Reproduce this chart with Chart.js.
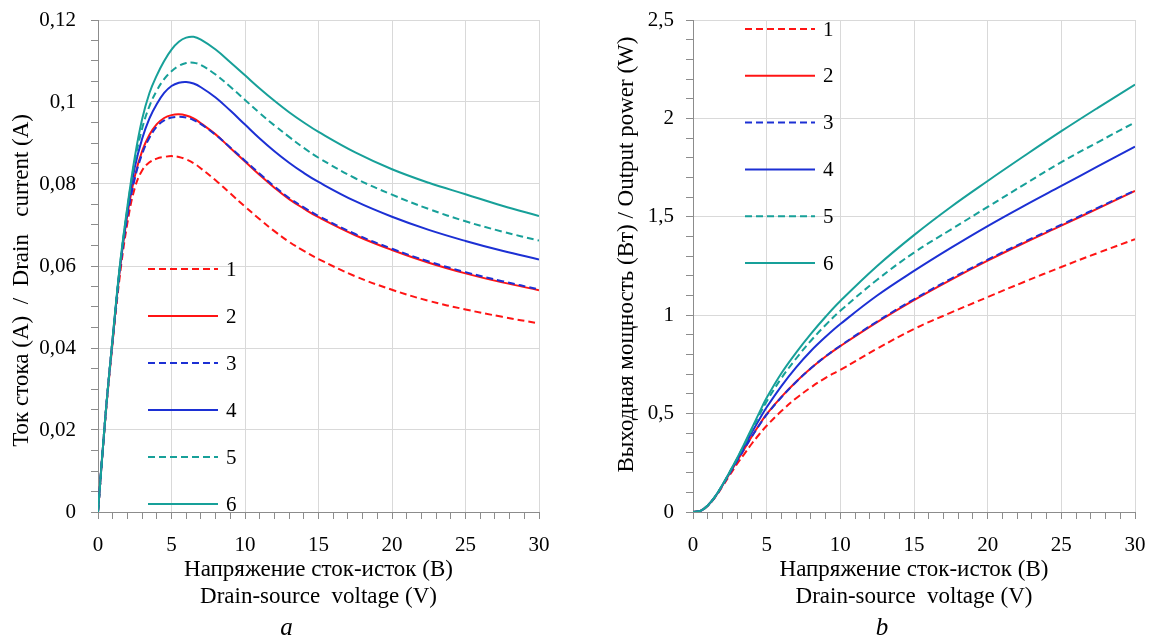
<!DOCTYPE html>
<html>
<head>
<meta charset="utf-8">
<script src="https://cdn.jsdelivr.net/npm/chart.js@4.4.0/dist/chart.umd.min.js"></script>
<style>
  body { margin: 0; background: #fff; }
  #wrapA { position: absolute; left: 0; top: 0; width: 575px; height: 637px; }
  #wrapB { position: absolute; left: 605px; top: 0; width: 546px; height: 637px; }
</style>
</head>
<body>
<div id="wrapA"><canvas id="currentChart"></canvas></div>
<div id="wrapB"><canvas id="powerChart"></canvas></div>
<script>
// series names (legend)
var seriesLabels = ['1', '2', '3', '4', '5', '6'];

// chart a: drain current vs drain-source voltage
var currentVoltage = [0, 0.5, 1, 1.5, 2, 2.5, 3, 3.5, 4, 4.5, 5, 5.5, 6, 6.5, 7, 8, 9, 10, 11, 12, 13, 14, 15, 17.5, 20, 22.5, 25, 27.5, 30];
var current1 = [0, 0.0228, 0.0415, 0.0580, 0.0705, 0.0790, 0.0833, 0.0853, 0.0862, 0.0866, 0.0868, 0.0866, 0.0860, 0.0851, 0.0838, 0.0809, 0.0777, 0.0745, 0.0714, 0.0685, 0.0659, 0.0637, 0.0617, 0.0575, 0.0542, 0.0515, 0.0494, 0.0476, 0.0460];
var current2 = [0, 0.0231, 0.0422, 0.0595, 0.0725, 0.0818, 0.0880, 0.0920, 0.0946, 0.0961, 0.0968, 0.0970, 0.0967, 0.0960, 0.0948, 0.0921, 0.0888, 0.0855, 0.0822, 0.0791, 0.0763, 0.0740, 0.0719, 0.0675, 0.0639, 0.0608, 0.0582, 0.0560, 0.0541];
var current3 = [0, 0.0231, 0.0422, 0.0594, 0.0722, 0.0813, 0.0873, 0.0913, 0.0940, 0.0955, 0.0962, 0.0964, 0.0962, 0.0956, 0.0946, 0.0920, 0.0889, 0.0857, 0.0825, 0.0794, 0.0766, 0.0743, 0.0722, 0.0678, 0.0642, 0.0611, 0.0585, 0.0563, 0.0543];
var current4 = [0, 0.0232, 0.0424, 0.0600, 0.0735, 0.0840, 0.0910, 0.0960, 0.0995, 0.1022, 0.1039, 0.1047, 0.1049, 0.1045, 0.1036, 0.1011, 0.0979, 0.0945, 0.0911, 0.0880, 0.0852, 0.0827, 0.0805, 0.0758, 0.0720, 0.0688, 0.0661, 0.0637, 0.0616];
var current5 = [0, 0.0232, 0.0425, 0.0603, 0.0740, 0.0855, 0.0935, 0.0990, 0.1028, 0.1056, 0.1075, 0.1088, 0.1095, 0.1096, 0.1090, 0.1067, 0.1037, 0.1005, 0.0973, 0.0943, 0.0915, 0.0888, 0.0864, 0.0814, 0.0774, 0.0739, 0.0709, 0.0684, 0.0662];
var current6 = [0, 0.0232, 0.0425, 0.0605, 0.0745, 0.0865, 0.0958, 0.1022, 0.1065, 0.1100, 0.1128, 0.1147, 0.1157, 0.1159, 0.1152, 0.1128, 0.1097, 0.1065, 0.1033, 0.1003, 0.0975, 0.0950, 0.0927, 0.0877, 0.0836, 0.0803, 0.0775, 0.0747, 0.0722];

// chart b: output power vs drain-source voltage
var powerVoltage = [0, 0.5, 1, 1.5, 2, 2.5, 3, 3.5, 4, 4.5, 5, 6, 7, 8, 9, 10, 12.5, 15, 17.5, 20, 22.5, 25, 27.5, 30];
var power1 = [0, 0.005, 0.032, 0.075, 0.13, 0.188, 0.245, 0.297, 0.348, 0.395, 0.438, 0.513, 0.578, 0.633, 0.682, 0.722, 0.83, 0.93, 1.013, 1.092, 1.17, 1.245, 1.317, 1.386];
var power2 = [0, 0.005, 0.033, 0.077, 0.135, 0.197, 0.26, 0.323, 0.385, 0.443, 0.497, 0.585, 0.662, 0.73, 0.79, 0.843, 0.965, 1.077, 1.18, 1.277, 1.368, 1.455, 1.543, 1.631];
var power3 = [0, 0.005, 0.033, 0.077, 0.135, 0.197, 0.26, 0.323, 0.384, 0.441, 0.495, 0.583, 0.661, 0.73, 0.791, 0.845, 0.968, 1.081, 1.185, 1.282, 1.373, 1.46, 1.547, 1.634];
var power4 = [0, 0.005, 0.033, 0.078, 0.137, 0.202, 0.268, 0.336, 0.405, 0.47, 0.532, 0.64, 0.735, 0.818, 0.89, 0.955, 1.1, 1.225, 1.342, 1.453, 1.557, 1.657, 1.757, 1.856];
var power5 = [0, 0.005, 0.033, 0.078, 0.138, 0.204, 0.272, 0.345, 0.418, 0.492, 0.562, 0.68, 0.78, 0.87, 0.95, 1.022, 1.18, 1.318, 1.435, 1.55, 1.665, 1.778, 1.88, 1.98];
var power6 = [0, 0.005, 0.033, 0.078, 0.138, 0.205, 0.275, 0.35, 0.427, 0.505, 0.58, 0.705, 0.81, 0.905, 0.992, 1.072, 1.25, 1.407, 1.55, 1.682, 1.81, 1.935, 2.055, 2.172];

var xTitle = ['Напряжение сток-исток (В)', 'Drain-source  voltage (V)'];

var lineColors = ['#ff1414', '#ff1414', '#1c30d4', '#1c30d4', '#17a099', '#17a099'];
var gridColor = '#d9d9d9';
var axisColor = '#8c8c8c';
var serif = "'Liberation Serif', 'Times New Roman', serif";

Chart.defaults.font.family = serif;
Chart.defaults.font.size = 21;
Chart.defaults.color = '#000';

function isMajor(v, step) {
  return Math.abs(v / step - Math.round(v / step)) < 1e-6;
}

function commaLabel(v, step) {
  if (!isMajor(v, step)) return '';
  return String(parseFloat(v.toFixed(4))).replace('.', ',');
}

function makeDatasets(xs, series) {
  return series.map(function(ys, i) {
    return {
      label: seriesLabels[i],
      data: xs.map(function(x, j) { return {x: x, y: ys[j]}; }),
      borderColor: lineColors[i],
      borderWidth: 2,
      borderDash: i % 2 === 0 ? [7, 4] : [],
      pointRadius: 0,
      fill: false,
      tension: 0.4,
      order: series.length - i
    };
  });
}

// legend drawn inside the plot area
var insideLegend = {
  id: 'insideLegend',
  afterDatasetsDraw: function(chart, args, opts) {
    var ctx = chart.ctx, a = chart.chartArea;
    ctx.save();
    chart.data.datasets.forEach(function(ds, i) {
      var x0 = a.left + opts.left;
      var y = a.top + opts.top + i * opts.gap;
      ctx.strokeStyle = ds.borderColor;
      ctx.lineWidth = ds.borderWidth;
      ctx.setLineDash(ds.borderDash);
      ctx.beginPath();
      ctx.moveTo(x0, y);
      ctx.lineTo(x0 + opts.length, y);
      ctx.stroke();
      ctx.setLineDash([]);
      ctx.fillStyle = '#000';
      ctx.font = '21px ' + serif;
      ctx.textAlign = 'left';
      ctx.textBaseline = 'middle';
      ctx.fillText(ds.label, x0 + opts.length + 8, y + 1);
    });
    ctx.restore();
  }
};

// italic panel letter under the axis title
var panelLetter = {
  id: 'panelLetter',
  afterDraw: function(chart, args, opts) {
    var ctx = chart.ctx, a = chart.chartArea;
    ctx.save();
    ctx.font = 'italic 25px ' + serif;
    ctx.fillStyle = '#000';
    ctx.textAlign = 'center';
    ctx.textBaseline = 'alphabetic';
    ctx.fillText(opts.text, (a.left + a.right) / 2 + opts.dx, opts.y);
    ctx.restore();
  }
};

function buildChart(id, xs, series, o) {
  return new Chart(document.getElementById(id), {
    type: 'line',
    data: { datasets: makeDatasets(xs, series) },
    plugins: [insideLegend, panelLetter],
    options: {
      responsive: true,
      maintainAspectRatio: false,
      animation: false,
      layout: { padding: { top: 20, right: o.padRight, left: 0, bottom: 0 } },
      plugins: {
        legend: { display: false },
        tooltip: { enabled: false },
        insideLegend: o.legend,
        panelLetter: { text: o.letter, dx: -32, y: 635 }
      },
      scales: {
        x: {
          type: 'linear',
          bounds: 'data',
          min: 0,
          max: 30,
          afterFit: function(s) {
            s.height = 125;
            s.paddingLeft = 0;
            s.paddingRight = 0;
          },
          ticks: {
            stepSize: 1,
            autoSkip: false,
            maxRotation: 0,
            padding: 14,
            callback: function(v) { return commaLabel(v, 5); }
          },
          grid: {
            color: function(c) { return c.tick && isMajor(c.tick.value, 5) ? gridColor : 'rgba(0,0,0,0)'; },
            tickColor: axisColor,
            tickLength: 7,
            lineWidth: 1
          },
          border: { color: axisColor },
          title: {
            display: true,
            text: xTitle,
            padding: { top: 0, bottom: 27 },
            font: { size: 23, lineHeight: 1.17 }
          }
        },
        y: {
          type: 'linear',
          bounds: 'data',
          min: 0,
          max: o.yMax,
          afterFit: function(s) {
            s.width = o.yWidth;
            s.paddingTop = 0;
            s.paddingBottom = 0;
          },
          ticks: {
            stepSize: o.yMinor,
            autoSkip: false,
            maxTicksLimit: 200,
            padding: o.yPad,
            callback: function(v) { return commaLabel(v, o.yMajor); }
          },
          grid: {
            color: function(c) { return c.tick && isMajor(c.tick.value, o.yMajor) ? gridColor : 'rgba(0,0,0,0)'; },
            tickColor: axisColor,
            tickLength: 7,
            lineWidth: 1
          },
          border: { color: axisColor },
          title: {
            display: true,
            text: o.yTitle,
            padding: { top: 8, bottom: 0 },
            font: { size: 23 }
          }
        }
      }
    }
  });
}

buildChart('currentChart', currentVoltage, [current1, current2, current3, current4, current5, current6], {
  yMax: 0.12, yMajor: 0.02, yMinor: 0.005, yWidth: 98, yPad: 15, padRight: 36,
  yTitle: 'Ток стока (А)  /  Drain   current (A)     ',
  letter: 'a',
  legend: { left: 50, top: 249, gap: 47, length: 70 }
});

buildChart('powerChart', powerVoltage, [power1, power2, power3, power4, power5, power6], {
  yMax: 2.5, yMajor: 0.5, yMinor: 0.1, yWidth: 88, yPad: 12, padRight: 16,
  yTitle: '    Выходная мощность (Вт) / Output power (W)',
  letter: 'b',
  legend: { left: 52, top: 9, gap: 46.8, length: 70 }
});
</script>
</body>
</html>
